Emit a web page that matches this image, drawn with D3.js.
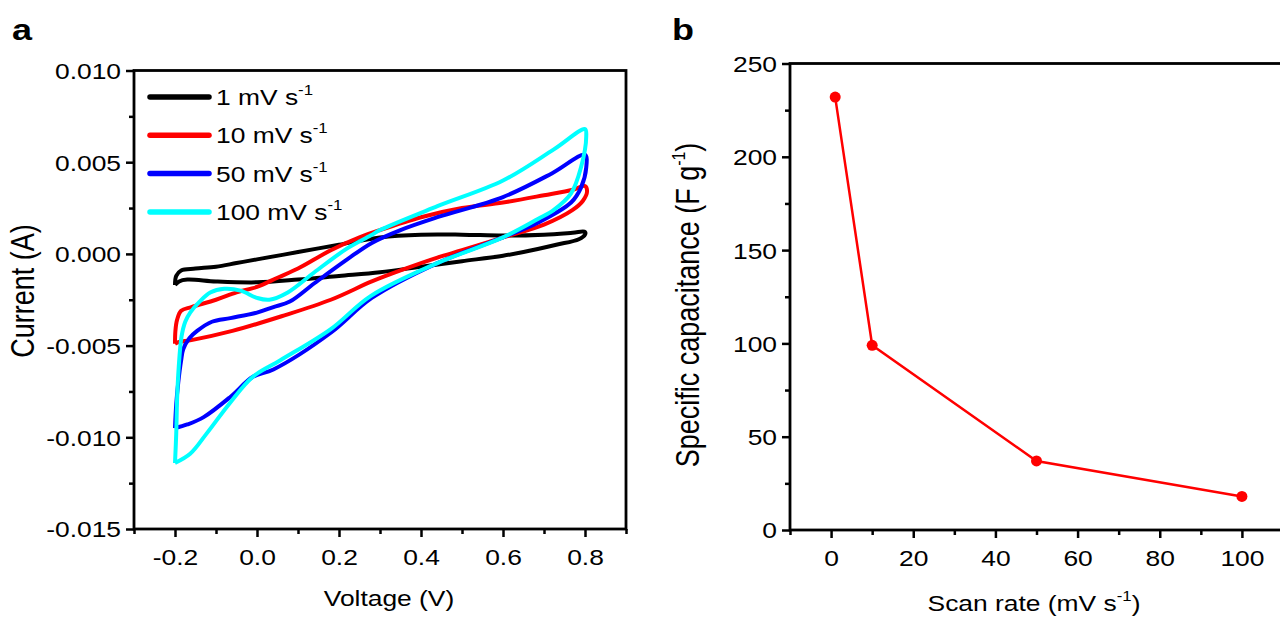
<!DOCTYPE html>
<html>
<head>
<meta charset="utf-8">
<script src="https://cdn.jsdelivr.net/npm/d3@7"></script>
<style>
  body { margin: 0; background: #fff; }
  svg { display: block; }
  text { font-family: "Liberation Sans", Arial, sans-serif; fill: #000; }
</style>
</head>
<body>
<script>
// ---- data ----
const cvLabels = ['1 mV s', '10 mV s', '50 mV s', '100 mV s']

// each loop: anodic sweep -0.2 -> 0.8 V, then back
const cv1 = [[-0.2,-0.0017],[-0.197,-0.0012],[-0.185,-0.0009],[-0.15,-0.0008],[-0.1,-0.0007],[-0.05,-0.0005],[0.0,-0.0003],[0.1,0.0001],[0.2,0.0005],[0.3,0.0009],[0.4,0.00105],[0.5,0.00105],[0.6,0.001],[0.7,0.00105],[0.77,0.00115],[0.8,0.0012],
  [0.8,0.00105],[0.785,0.0008],[0.73,0.0005],[0.65,0.0001],[0.6,-0.0001],[0.5,-0.0004],[0.4,-0.0007],[0.3,-0.001],[0.2,-0.0012],[0.1,-0.0014],[0.0,-0.00155],[-0.1,-0.0015],[-0.17,-0.0014],[-0.19,-0.0015],[-0.2,-0.0017]]

const cv10 = [[-0.2,-0.0049],[-0.199,-0.0042],[-0.195,-0.0036],[-0.185,-0.0031],[-0.16,-0.0029],[-0.1,-0.0025],[-0.05,-0.0021],[0.0,-0.0018],[0.05,-0.0013],[0.1,-0.0008],[0.18,0.0002],[0.25,0.0009],[0.3,0.0013],[0.4,0.002],[0.5,0.0025],[0.6,0.0028],[0.7,0.0032],[0.77,0.0035],[0.8,0.0037],
  [0.805,0.0034],[0.795,0.0029],[0.77,0.0024],[0.7,0.0016],[0.6,0.0009],[0.5,0.0002],[0.44,-0.0002],[0.35,-0.0009],[0.28,-0.0015],[0.18,-0.0025],[0.06,-0.0034],[-0.06,-0.0042],[-0.16,-0.0047],[-0.19,-0.0048],[-0.2,-0.0049]]

const cv50 = [[-0.2,-0.0095],[-0.197,-0.0082],[-0.192,-0.007],[-0.185,-0.0058],[-0.18,-0.0052],[-0.165,-0.0046],[-0.146,-0.0042],[-0.11,-0.0037],[-0.065,-0.0035],[0.0,-0.0032],[0.04,-0.0029],[0.08,-0.0026],[0.14,-0.0016],[0.22,-0.0003],[0.28,0.0006],[0.35,0.0013],[0.44,0.002],[0.6,0.0031],[0.72,0.0044],[0.8,0.0054],
  [0.803,0.0047],[0.79,0.0036],[0.766,0.0028],[0.685,0.0017],[0.6,0.0009],[0.44,-0.0005],[0.28,-0.0024],[0.18,-0.0043],[0.04,-0.0063],[-0.01,-0.0067],[-0.065,-0.0078],[-0.13,-0.0089],[-0.17,-0.0093],[-0.2,-0.0095]]

const cv100 = [[-0.2,-0.0114],[-0.197,-0.0098],[-0.195,-0.008],[-0.191,-0.0062],[-0.184,-0.0045],[-0.175,-0.0037],[-0.163,-0.0032],[-0.14,-0.0026],[-0.114,-0.0021],[-0.08,-0.0019],[-0.04,-0.002],[0.0,-0.0024],[0.03,-0.0025],[0.075,-0.0021],[0.14,-0.001],[0.22,0.0003],[0.277,0.001],[0.3,0.0013],[0.44,0.0026],[0.6,0.004],[0.724,0.0057],[0.8,0.0068],
  [0.803,0.0064],[0.79,0.0047],[0.766,0.0033],[0.724,0.0024],[0.685,0.0019],[0.6,0.0009],[0.44,-0.0005],[0.277,-0.0023],[0.18,-0.0041],[0.057,-0.0058],[-0.01,-0.0067],[-0.065,-0.0081],[-0.123,-0.0098],[-0.163,-0.0109],[-0.2,-0.0114]]

const voltageTicks = [-0.2, 0.0, 0.2, 0.4, 0.6, 0.8]
const voltageMinor = [-0.3, -0.1, 0.1, 0.3, 0.5, 0.7, 0.9]
const currentTicks = [-0.015, -0.010, -0.005, 0.000, 0.005, 0.010]
const currentMinor = [-0.0125, -0.0075, -0.0025, 0.0025, 0.0075]

const scanRates = [1, 10, 50, 100]
const capacitance = [232, 99, 37, 18]
const rateTicks = [0, 20, 40, 60, 80, 100]
const rateMinor = [-10, 10, 30, 50, 70, 90, 110]
const capTicks = [0, 50, 100, 150, 200, 250]
const capMinor = [25, 75, 125, 175, 225]

// ---- drawing ----
const W = 1280, H = 617
const SX = 1.2   // the source figure is stretched horizontally
const FS = 22    // horizontal text
const FR = 27    // rotated axis titles

const svg = d3.select('body').append('svg')
  .attr('width', W)
  .attr('height', H)

function stretchedText(g, x, y, anchor, size) {
  return g.append('text')
    .attr('transform', `translate(${x},${y}) scale(${SX},1)`)
    .attr('text-anchor', anchor)
    .attr('font-size', size || FS)
}

function rotatedText(x, y) {
  return svg.append('text')
    .attr('transform', `translate(${x},${y}) rotate(-90) scale(1,${SX})`)
    .attr('text-anchor', 'middle')
    .attr('font-size', FR)
}

function sup(t, s, size, shift) {
  t.append('tspan').attr('font-size', size).attr('dy', -shift).text(s)
}

function frame(x, y, xt, xm, yt, ym, xfmt, yfmt) {
  const [x0, x1] = x.range(), [y0, y1] = y.range()
  const xAxis = svg.append('g')
    .attr('transform', `translate(0,${y0})`)
    .call(d3.axisBottom(x).tickValues(xt).tickSize(8).tickFormat(xfmt))
  xAxis.selectAll('text')
    .attr('y', 36).attr('dy', 0)
    .attr('font-size', FS)
    .attr('transform', `scale(${SX},1)`)
  svg.append('g')
    .attr('transform', `translate(0,${y0})`)
    .call(d3.axisBottom(x).tickValues(xm).tickSize(5).tickFormat(''))

  const yAxis = svg.append('g')
    .attr('transform', `translate(${x0},0)`)
    .call(d3.axisLeft(y).tickValues(yt).tickSize(8).tickFormat(yfmt))
  yAxis.selectAll('text')
    .attr('x', -13 / SX).attr('dy', '0.36em')
    .attr('font-size', FS)
    .attr('transform', `scale(${SX},1)`)
  svg.append('g')
    .attr('transform', `translate(${x0},0)`)
    .call(d3.axisLeft(y).tickValues(ym).tickSize(5).tickFormat(''))

  svg.selectAll('.domain').remove()
  svg.selectAll('.tick line').attr('stroke', '#000').attr('stroke-width', 2.5)
  svg.selectAll('.tick text').attr('fill', '#000')
    .style('font-family', '"Liberation Sans", Arial, sans-serif')

  svg.append('rect')
    .attr('x', x0).attr('y', y1)
    .attr('width', x1 - x0).attr('height', y0 - y1)
    .attr('fill', 'none')
    .attr('stroke', '#000')
    .attr('stroke-width', 2.8)
}

// panel a: cyclic voltammograms
const xA = d3.scaleLinear().domain([-0.3, 0.9]).range([134, 626])
const yA = d3.scaleLinear().domain([-0.015, 0.010]).range([529, 70.5])

const cvColors = ['#000000', '#ff0000', '#0000ff', '#00ffff']
const cvLine = d3.line()
  .x(d => xA(d[0]))
  .y(d => yA(d[1]))
  .curve(d3.curveCatmullRom.alpha(0.5))

svg.append('g').attr('class', 'cv')
  .selectAll('path')
  .data([cv1, cv10, cv50, cv100])
  .join('path')
    .attr('d', cvLine)
    .attr('fill', 'none')
    .attr('stroke', (d, i) => cvColors[i])
    .attr('stroke-width', 4)
    .attr('stroke-linejoin', 'round')

frame(xA, yA, voltageTicks, voltageMinor, currentTicks, currentMinor,
  d => d.toFixed(1), d => d.toFixed(3))

const legend = svg.append('g').attr('class', 'legend')
cvLabels.forEach((lab, i) => {
  const ly = 97 + i * 38.3
  legend.append('line')
    .attr('x1', 150).attr('x2', 209)
    .attr('y1', ly).attr('y2', ly)
    .attr('stroke', cvColors[i])
    .attr('stroke-width', 5.5)
    .attr('stroke-linecap', 'round')
  const t = stretchedText(legend, 216, ly + 8, 'start')
  t.append('tspan').text(lab)
  sup(t, '-1', 14, 10)
})

stretchedText(svg, 389, 606, 'middle').text('Voltage (V)')
rotatedText(34, 291).text('Current (A)')
stretchedText(svg, 22, 40, 'middle', 30).attr('font-weight', 'bold').text('a')

// panel b: capacitance vs scan rate
const xB = d3.scaleLinear().domain([-10, 110]).range([790, 1283])
const yB = d3.scaleLinear().domain([0, 250]).range([530, 63.5])

const capData = scanRates.map((r, i) => [r, capacitance[i]])

svg.append('path')
  .datum(capData)
  .attr('d', d3.line().x(d => xB(d[0])).y(d => yB(d[1])))
  .attr('fill', 'none')
  .attr('stroke', '#ff0000')
  .attr('stroke-width', 2.5)

svg.append('g')
  .selectAll('circle')
  .data(capData)
  .join('circle')
    .attr('cx', d => xB(d[0]))
    .attr('cy', d => yB(d[1]))
    .attr('r', 5.5)
    .attr('fill', '#ff0000')

frame(xB, yB, rateTicks, rateMinor, capTicks, capMinor,
  d => String(d), d => String(d))

const xt = stretchedText(svg, 1034, 611, 'middle')
xt.append('tspan').text('Scan rate (mV s')
sup(xt, '-1', 14, 10)
xt.append('tspan').attr('dy', 10).text(')')

const yt = rotatedText(699, 305)
yt.append('tspan').text('Specific capacitance (F g')
sup(yt, '-1', 16, 12)
yt.append('tspan').attr('dy', 12).text(')')

stretchedText(svg, 683, 40, 'middle', 30).attr('font-weight', 'bold').text('b')
</script>
</body>
</html>
